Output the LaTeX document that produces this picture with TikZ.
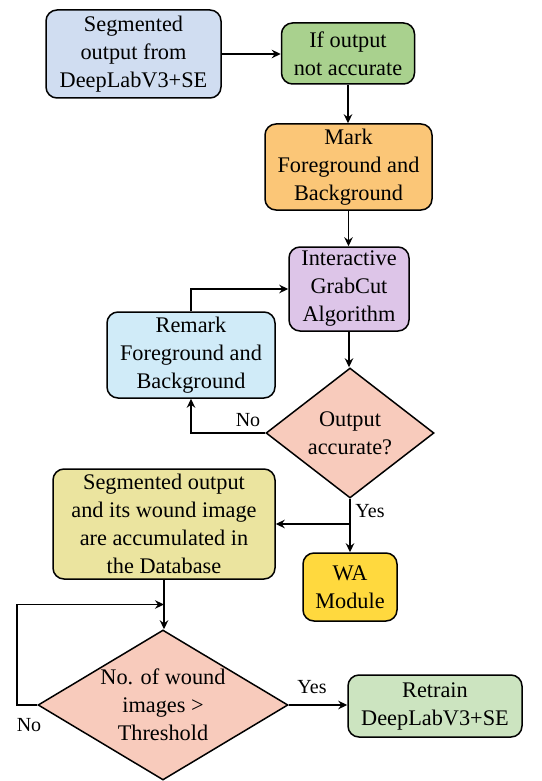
\documentclass[tikz,border=0pt]{standalone}
\usepackage{fontspec}
\setmainfont{Liberation Serif}
\newfontfamily\flowfont{Liberation Serif}
\usetikzlibrary{arrows.meta,shapes.geometric,calc}

\definecolor{cInput}{HTML}{D0DDF1}
\definecolor{cCheck}{HTML}{A9D18E}
\definecolor{cMark}{HTML}{FBC677}
\definecolor{cGrab}{HTML}{DDC5E8}
\definecolor{cRemark}{HTML}{D0EBF8}
\definecolor{cDecide}{HTML}{F8CBBC}
\definecolor{cStore}{HTML}{EBE49F}
\definecolor{cWA}{HTML}{FFD93E}
\definecolor{cRetrain}{HTML}{CCE4C0}

\tikzset{
  x=1pt, y=1pt,
  proc/.style={draw=black, line width=1.5pt, rounded corners=11pt, align=center,
    inner sep=0pt, font=\flowfont\fontsize{22.3}{28}\selectfont},
  decide/.style={draw=black, line width=1.5pt, diamond, align=center, inner sep=-6pt,
    fill=cDecide, font=\flowfont\fontsize{22.3}{28}\selectfont},
  link/.style={line width=1.4pt, -{Stealth[length=9pt,width=8.5pt,inset=3pt]}},
  tag/.style={font=\flowfont\fontsize{20}{24}\selectfont, inner sep=0pt},
}

\begin{document}
\begin{tikzpicture}
\useasboundingbox (0,0) rectangle (541,-781);

% process boxes
\node[proc, fill=cInput, minimum width=175pt, minimum height=88pt] (seg) at (133.5,-54)
  {Segmented\\output from\\DeepLabV3+SE};
\node[proc, fill=cCheck, minimum width=133pt, minimum height=61pt] (check) at (348,-53.5)
  {If output\\not accurate};
\node[proc, fill=cMark, minimum width=167pt, minimum height=86pt] (mark) at (348.5,-167)
  {Mark\\Foreground and\\Background};
\node[proc, fill=cGrab, minimum width=120pt, minimum height=84pt] (grab) at (349,-289)
  {Interactive\\GrabCut\\Algorithm};
\node[proc, fill=cRemark, minimum width=168pt, minimum height=86pt] (remark) at (191,-355)
  {Remark\\Foreground and\\Background};
\node[decide, minimum width=168pt, minimum height=130pt] (acc) at (350,-433)
  {Output\\accurate?};
\node[proc, fill=cStore, minimum width=222pt, minimum height=110pt] (store) at (164,-524)
  {Segmented output\\and its wound image\\are accumulated in\\the Database};
\node[proc, fill=cWA, minimum width=94pt, minimum height=68pt] (wa) at (350,-587)
  {WA\\Module};
\node[decide, minimum width=250pt, minimum height=150pt, inner sep=-14pt] (thr) at (163,-705)
  {No. of wound\\images >\\Threshold};
\node[proc, fill=cRetrain, minimum width=174pt, minimum height=62pt] (retrain) at (435,-706)
  {Retrain\\DeepLabV3+SE};

% junction points of the connectors
\coordinate (split) at (acc.south |- store.east);
\coordinate (merge) at ($(store.south)!0.5!(store.south |- thr.north)$);
\coordinate (loopL) at (17,0);

% connectors
\draw[link] (seg.east) -- (seg.east -| check.west);
\draw[link] (check.south) -- (check.south |- mark.north);
\draw[link] (mark.south) -- (mark.south |- grab.north);
\draw[link] (grab.south) -- (grab.south |- acc.north);
\draw[link] (remark.north) |- (grab.west);
\draw[link] (acc.west) -| (remark.south);
\draw[link] (acc.south) -- (wa.north);
\draw[link] (split) -- (store.east);
\draw[link] (store.south) -- (store.south |- thr.north);
\draw[link] (thr.west) -- (loopL |- thr.west) |- (merge);
\draw[link] (thr.east) -- (thr.east -| retrain.west);

% branch labels
\node[tag] (no1) at (248,-420) {No};
\node[tag] (yes1) at (370,-511) {Yes};
\node[tag] (yes2) at (312,-687) {Yes};
\node[tag] (no2) at (29,-725) {No};
\end{tikzpicture}
\end{document}
